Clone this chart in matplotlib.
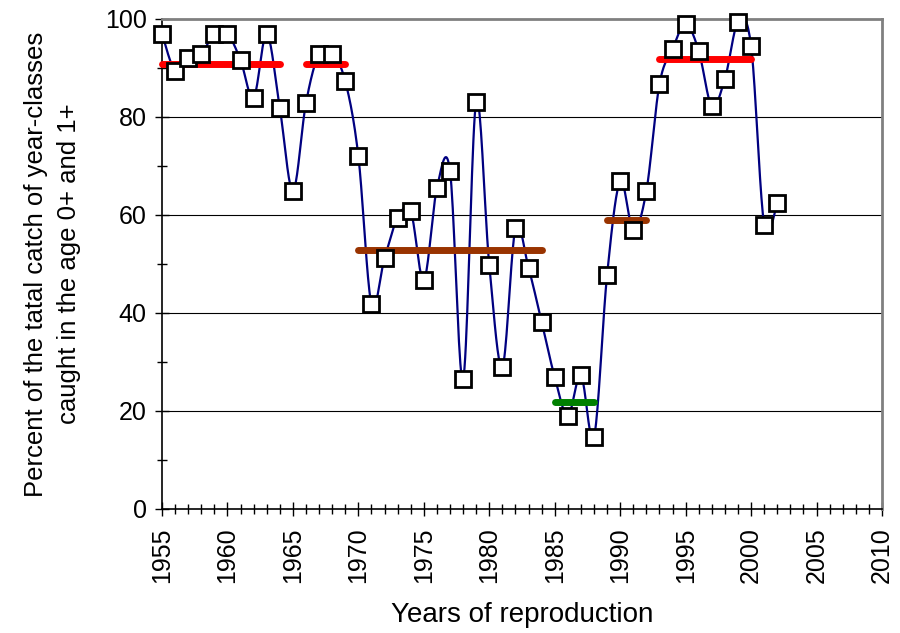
import numpy as np
import matplotlib.pyplot as plt

plt.rcParams['font.family'] = ['Liberation Sans', 'DejaVu Sans']

# Data
years = list(range(1955, 2003))
percent = [97, 89.4, 92, 92.9, 97, 97, 91.6, 83.9, 97, 81.8,
           64.9, 82.9, 92.9, 92.9, 87.3, 72, 41.8, 51.2, 59.4, 60.8,
           46.7, 65.5, 69, 26.5, 83.1, 49.8, 29, 57.3, 49.2, 38.2,
           26.9, 19, 27.3, 14.7, 47.8, 66.9, 56.9, 64.9, 86.7, 93.9,
           99, 93.5, 82.2, 87.8, 99.4, 94.5, 58, 62.4]

# period means: (start, end, level, colour)
mean_start = [1955, 1966, 1970, 1985, 1989, 1993]
mean_end = [1964, 1969, 1984, 1988, 1992, 2000]
mean_level = [90.8, 90.8, 52.9, 21.8, 59.0, 91.8]
mean_color = ['#ff0000', '#ff0000', '#993300', '#008000', '#993300', '#ff0000']


def smooth(x, y, n=20):
    # Bezier curve through the points like the smoothed line in a spreadsheet chart
    x = np.asarray(x, float)
    y = np.asarray(y, float)
    px = np.concatenate([[x[0]], x, [x[-1]]])
    py = np.concatenate([[y[0]], y, [y[-1]]])
    xs, ys = [], []
    t = np.linspace(0, 1, n)
    for i in range(1, len(px) - 2):
        p0, p1, p2, p3 = [np.array([px[j], py[j]]) for j in (i - 1, i, i + 1, i + 2)]
        c1 = p1 + (p2 - p0) / 6
        c2 = p2 - (p3 - p1) / 6
        b = ((1 - t) ** 3)[:, None] * p1 + (3 * (1 - t) ** 2 * t)[:, None] * c1 \
            + (3 * (1 - t) * t ** 2)[:, None] * c2 + (t ** 3)[:, None] * p2
        xs.extend(b[:, 0])
        ys.extend(b[:, 1])
    return xs, ys


fig = plt.figure(figsize=(9, 6.33), dpi=100)
ax = fig.add_axes([162 / 900, 1 - 509 / 633, 720 / 900, 490 / 633])

for lvl in [20, 40, 60, 80]:
    ax.axhline(lvl, color='black', lw=0.8, zorder=0)

sx, sy = smooth(years, percent)
ax.plot(sx, sy, color='#000080', lw=1.6, zorder=2, clip_on=False)

for s, e, lvl, c in zip(mean_start, mean_end, mean_level, mean_color):
    ax.plot([s, e], [lvl, lvl], color=c, lw=5, solid_capstyle='round', zorder=3,
            clip_on=False)

ax.plot(years, percent, ls='none', marker='s', ms=11, mfc='white', mec='black',
        mew=2, zorder=4, clip_on=False)

ax.set_xlim(1955, 2010)
ax.set_ylim(0, 100)
ax.set_xticks(range(1955, 2011, 5))
ax.set_xticks(range(1955, 2011), minor=True)
ax.set_yticks(range(0, 101, 20))
ax.set_yticks(range(0, 101, 10), minor=True)
ax.tick_params(axis='x', which='major', direction='inout', length=10, labelsize=18,
               labelrotation=90, width=1, pad=8)
ax.tick_params(axis='x', which='minor', direction='inout', length=7, width=1)
ax.tick_params(axis='y', which='major', direction='inout', length=10, labelsize=18,
               width=1, pad=6)
ax.tick_params(axis='y', which='minor', direction='inout', length=7, width=1)

for side in ['top', 'right']:
    ax.spines[side].set_color('#808080')
    ax.spines[side].set_linewidth(2)
ax.spines['left'].set_linewidth(1.2)
ax.spines['bottom'].set_linewidth(1.2)

ax.set_xlabel('Years of reproduction', fontsize=20)
ax.xaxis.set_label_coords(0.5, -0.19)
ax.set_ylabel('Percent of the tatal catch of year-classes\ncaught in the age 0+ and 1+',
              fontsize=18.5, linespacing=1.5)
ax.yaxis.set_label_coords(-0.112, 0.5)

fig.savefig('out.png', dpi=100)
